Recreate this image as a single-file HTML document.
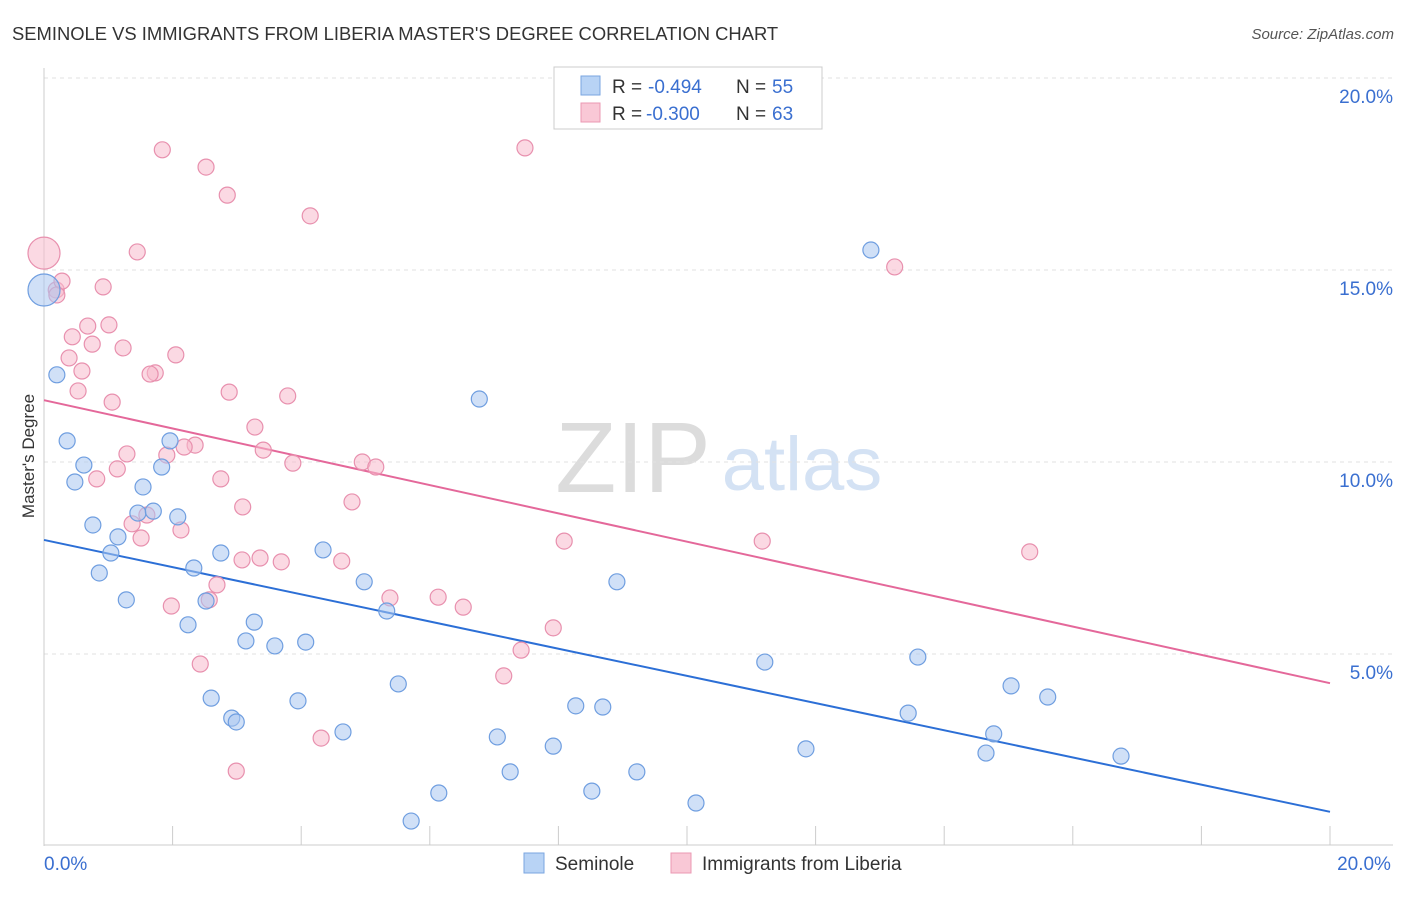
<!DOCTYPE html>
<html><head><meta charset="utf-8"><style>
body{margin:0;background:#fff;font-family:"Liberation Sans",sans-serif;}
svg text{font-family:"Liberation Sans",sans-serif;}
</style></head><body>
<svg id="chart" width="1406" height="892">
<text x="12" y="40" font-size="18.4" fill="#333">SEMINOLE VS IMMIGRANTS FROM LIBERIA MASTER'S DEGREE CORRELATION CHART</text>
<text x="1394" y="39" font-size="15" fill="#555" font-style="italic" text-anchor="end">Source: ZipAtlas.com</text>
<g>
<text x="633" y="492" font-size="100" font-family="Liberation Serif" fill="#dcdcdc" text-anchor="middle">ZIP</text>
<text x="802" y="490" font-size="76" fill="#d4e2f4" text-anchor="middle">atlas</text>
</g>
<g id="grid"></g>
<g id="axes"></g>
<text transform="translate(34,456) rotate(-90)" font-size="17" fill="#333" text-anchor="middle">Master's Degree</text>
<g id="lines"></g>
<g id="points"></g>
<g>
<rect x="554" y="67" width="268" height="62" fill="#fff" stroke="#ccc"/>
<rect x="581" y="76" width="19" height="19" fill="#b8d3f5" stroke="#7aa6e0"/>
<rect x="581" y="103" width="19" height="19" fill="#f9c8d6" stroke="#eb98b3"/>
<text x="612" y="93" font-size="19" fill="#333">R =  <tspan x="648" fill="#3a6fd0">-0.494</tspan><tspan x="736">N =</tspan><tspan x="772" fill="#3a6fd0">55</tspan></text>
<text x="612" y="120" font-size="19" fill="#333">R =  <tspan x="646" fill="#3a6fd0">-0.300</tspan><tspan x="736">N =</tspan><tspan x="772" fill="#3a6fd0">63</tspan></text>
</g>
<g>
<rect x="524" y="853" width="20" height="20" fill="#b8d3f5" stroke="#7aa6e0"/>
<text x="555" y="870" font-size="19" fill="#333">Seminole</text>
<rect x="671" y="853" width="20" height="20" fill="#f9c8d6" stroke="#eb98b3"/>
<text x="702" y="870" font-size="19" fill="#333">Immigrants from Liberia</text>
</g>
</svg>
<script>
const yTicks=[5,10,15,20];
const yTickLabels=["5.0%","10.0%","15.0%","20.0%"];
const xTickLabels=["0.0%","20.0%"];
const blueX=[0,0.2,0.36,0.62,0.48,0.76,1.15,1.04,0.86,1.28,1.54,1.83,1.96,1.46,1.70,2.08,2.33,2.24,2.52,2.75,2.60,2.92,2.99,3.14,3.27,3.59,4.07,3.95,4.34,4.65,4.98,5.33,5.51,5.71,6.14,6.77,7.05,7.25,7.92,8.27,8.52,8.69,8.91,9.22,10.14,11.21,11.85,12.86,13.44,13.59,14.65,14.77,15.04,15.61,16.75];
const blueY=[14.48,12.27,10.55,9.92,9.48,8.36,8.05,7.63,7.11,6.41,9.35,9.87,10.55,8.67,8.72,8.57,7.24,5.76,6.38,7.63,3.85,3.33,3.23,5.34,5.83,5.21,5.31,3.78,7.71,2.97,6.88,6.12,4.22,0.65,1.38,11.64,2.84,1.93,2.60,3.65,1.43,3.62,6.88,1.93,1.12,4.79,2.53,15.52,3.46,4.92,2.42,2.92,4.17,3.88,2.34];
const pinkX=[0,0.19,0.28,0.92,0.44,0.68,1.01,0.75,0.39,0.59,0.53,1.23,1.06,2.05,1.73,1.65,1.45,1.84,2.52,2.85,4.14,7.48,13.23,2.88,3.79,3.28,3.41,2.35,2.18,1.91,1.29,1.14,0.82,3.87,4.95,5.16,2.75,4.79,3.09,1.60,1.37,2.13,1.51,8.09,11.17,15.33,3.36,3.08,3.69,4.63,2.69,2.57,1.98,5.38,6.13,6.52,7.92,7.42,2.43,7.15,4.31,2.99,0.2];
const pinkY=[15.44,14.48,14.71,14.56,13.26,13.54,13.57,13.07,12.71,12.37,11.85,12.97,11.56,12.79,12.32,12.29,15.47,18.13,17.68,16.95,16.41,18.18,15.08,11.82,11.72,10.91,10.31,10.44,10.39,10.18,10.21,9.82,9.56,9.97,10.0,9.87,9.56,8.96,8.83,8.62,8.39,8.23,8.02,7.94,7.94,7.66,7.5,7.45,7.40,7.42,6.80,6.41,6.25,6.46,6.48,6.22,5.68,5.10,4.74,4.43,2.81,1.95,14.35];
const blueTrend=[7.97,0.89];
const pinkTrend=[11.61,4.24];
const trendX=[0,20];
const NS="http://www.w3.org/2000/svg";
const X=v=>44+v*64.3;
const Y=v=>846-v*38.4;
function mk(t,a,p){const e=document.createElementNS(NS,t);for(const k in a)e.setAttribute(k,a[k]);p.appendChild(e);return e;}
const grid=document.getElementById('grid'),axes=document.getElementById('axes');
yTicks.forEach((t,i)=>{
 const l=mk('line',{x1:44,x2:1393,y1:Y(t),y2:Y(t),stroke:'#e2e2e2','stroke-dasharray':'4,4'},grid);
 
 
 const tx=mk('text',{x:1393,y:Y(t)+25,'font-size':19,fill:'#3a6fd0','text-anchor':'end'},axes);
 tx.textContent=yTickLabels[i];
 
 
});
mk('line',{x1:44,x2:44,y1:68,y2:846,stroke:'#ccc'},axes);
mk('line',{x1:44,x2:1393,y1:845,y2:845,stroke:'#ccc'},axes);
for(let i=1;i<=10;i++){mk('line',{x1:X(i*2),x2:X(i*2),y1:826,y2:845,stroke:'#ccc'},axes);}
[[0,'start',44],[1,'middle',1364]].forEach(([i,a,x])=>{
 const tx=mk('text',{x:x,y:870,'font-size':19,fill:'#3a6fd0','text-anchor':a},axes);
 tx.textContent=xTickLabels[i];
 
 
});
const lines=document.getElementById('lines');
const bl=mk('line',{x1:X(trendX[0]),y1:Y(blueTrend[0]),x2:X(trendX[1]),y2:Y(blueTrend[1]),stroke:'#2c6fd6','stroke-width':2},lines);


const pl=mk('line',{x1:X(trendX[0]),y1:Y(pinkTrend[0]),x2:X(trendX[1]),y2:Y(pinkTrend[1]),stroke:'#e4689a','stroke-width':2},lines);


const pts=document.getElementById('points');
function draw(xs,ys,fill,stroke,name){
 xs.forEach((x,i)=>{
  const r=(x===0)?16:8;
  const c=mk('circle',{cx:X(x),cy:Y(ys[i]),r:r,fill:fill,'fill-opacity':0.55,stroke:stroke,'stroke-width':1.2},pts);
  
  
 });
}
draw(pinkX,pinkY,'#f7b9cc','#e890ae','liberia-point');
draw(blueX,blueY,'#a9c7f1','#6f9ee0','seminole-point');
</script>
</body></html>
